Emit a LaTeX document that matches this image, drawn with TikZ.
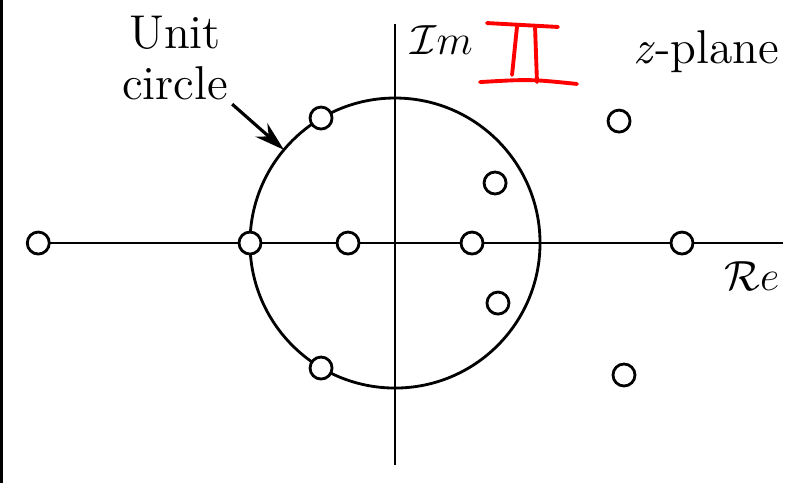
\documentclass[tikz,border=0pt]{standalone}
\usepackage{tikz}
\usetikzlibrary{arrows.meta}

\begin{document}
\begin{tikzpicture}[
  x=1.45cm, y=1.45cm,
  font=\fontsize{13.5}{14.5}\selectfont,
  axisline/.style={line width=0.8pt},
  unitcirc/.style={line width=0.8pt},
  zerodot/.style={circle, draw, fill=white, line width=0.8pt,
                  minimum size=2.2mm, inner sep=0pt},
  callout/.style={-{Stealth[length=3mm, width=1.8mm]}, line width=0.9pt},
  mathlbl/.style={font=\fontsize{12.5}{14}\selectfont, inner sep=0pt},
  redmark/.style={draw=red, line width=1.1pt, line cap=round},
]
\useasboundingbox (-2.724,-1.655) rectangle (2.710,1.676);
\fill (-2.724,-1.655) rectangle (-2.703,1.676);

% =================================================================
%  AXES AND UNIT CIRCLE
% =================================================================
\coordinate (reL) at (-2.46, 0);
\coordinate (reR) at (2.676, 0);
\coordinate (imT) at (0, 1.51);
\coordinate (imB) at (0, -1.531);

\draw[axisline] (reL) -- (reR);
\draw[axisline] (imB) -- (imT);
\draw[unitcirc] (0,0) circle (1);
\coordinate (ucpt) at (140:1);

% =================================================================
%  ZEROS
% =================================================================
\node[zerodot] (zfar)  at (-2.46, 0) {};
\node[zerodot] (zedge) at (-1.0, 0) {};
\node[zerodot] (zin)   at (-0.324, 0) {};
\node[zerodot] (zpos)  at (0.531, 0) {};
\node[zerodot] (zout)  at (1.979, 0) {};
\node[zerodot] (zul)   at (-0.510, 0.862) {};
\node[zerodot] (zll)   at (-0.510, -0.862) {};
\node[zerodot] (zur)   at (0.690, 0.414) {};
\node[zerodot] (zlr)   at (0.710, -0.414) {};
\node[zerodot] (zfu)   at (1.545, 0.841) {};
\node[zerodot] (zfl)   at (1.579, -0.910) {};

% =================================================================
%  LABELS
% =================================================================
\node[align=center, inner sep=1pt] (ulabel) at (-1.517, 1.276) {Unit\\circle};
\draw[callout] (ulabel.south east) -- (ucpt);

\node[mathlbl, anchor=base west] (imlabel) at (0.103, 1.297) {$\mathcal{I}m$};
\node[mathlbl, anchor=base east] (relabel) at (2.655, -0.324) {$\mathcal{R}e$};
\node[anchor=base east, inner sep=0pt] (zlabel) at (2.655, 1.241) {\textit{z}-plane};

% hand-drawn red mark
\draw[redmark] (0.634,1.517) -- (1.124,1.490);
\draw[redmark] (0.586,1.110) .. controls (0.93,1.13) .. (1.255,1.097);
\draw[redmark] (0.841,1.490) -- (0.807,1.159);
\draw[redmark] (0.966,1.483) -- (0.979,1.110);

\end{tikzpicture}
\end{document}
